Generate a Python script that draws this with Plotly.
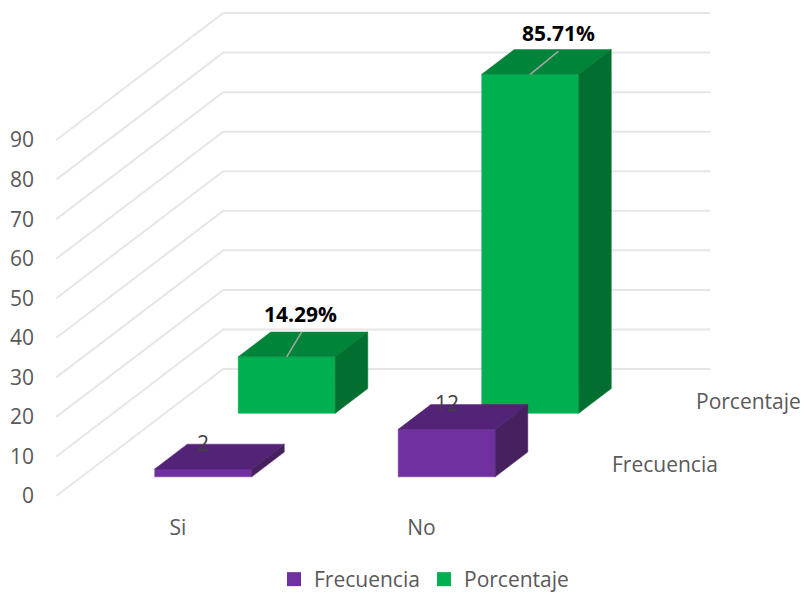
import plotly.graph_objects as go

categories = ["Si", "No"]
frecuencia = [2, 12]
porcentaje = [14.29, 85.71]
frecuencia_labels = ["2", "12"]
porcentaje_labels = ["14.29%", "85.71%"]
value_ticks = [0, 10, 20, 30, 40, 50, 60, 70, 80, 90]

FONT = "Open Sans"
GREY = "#595959"
FS = 21
PX_PER_CAT = 243.5
PX_PER_VAL = 3.955
DEPTH_X = 167 / PX_PER_CAT   # oblique projection of the depth axis, in axis units
DEPTH_Y = 127 / PX_PER_VAL
HALF_W = 48.5 / PX_PER_CAT
BAR_DEPTH = 0.195
LEFT, BOTTOM = 35, 513
X0, Y0 = 178, 496


def proj(c, v, d):
    return c + d * DEPTH_X, v + d * DEPTH_Y


def poly(points, color):
    xs, ys = zip(*[proj(*p) for p in points])
    return go.Scatter(x=list(xs) + [xs[0]], y=list(ys) + [ys[0]], mode="lines", fill="toself",
                      fillcolor=color, line=dict(color=color, width=0.5),
                      showlegend=False, hoverinfo="skip")


def bar(c, value, d0, front, top, side):
    l, r, d1 = c - HALF_W, c + HALF_W, d0 + BAR_DEPTH
    return [
        poly([(l, 0, d0), (r, 0, d0), (r, value, d0), (l, value, d0)], front),
        poly([(l, value, d0), (r, value, d0), (r, value, d1), (l, value, d1)], top),
        poly([(r, 0, d0), (r, 0, d1), (r, value, d1), (r, value, d0)], side),
    ]


fig = go.Figure()

# legend entries
fig.add_trace(go.Scatter(x=[None], y=[None], mode="markers", name="Frecuencia",
                         marker=dict(symbol="square", size=14, color="#7030A0")))
fig.add_trace(go.Scatter(x=[None], y=[None], mode="markers", name="Porcentaje",
                         marker=dict(symbol="square", size=14, color="#00B050")))

# floor-to-wall gridlines
gx, gy = [], []
for t in value_ticks:
    for c, d in [(-0.5, 0), (-0.5, 1), (1.5, 1)]:
        x, y = proj(c, t, d)
        gx.append(x)
        gy.append(y)
    gx.append(None)
    gy.append(None)
fig.add_trace(go.Scatter(x=gx, y=gy, mode="lines", line=dict(color="#E6E6E6", width=2),
                         showlegend=False, hoverinfo="skip"))

# bars, back row first
for i, v in enumerate(porcentaje):
    for t in bar(i, v, 0.651, "#00B050", "#00843A", "#006F2F"):
        fig.add_trace(t)
for i, v in enumerate(frecuencia):
    for t in bar(i, v, 0.151, "#7030A0", "#532378", "#47205F"):
        fig.add_trace(t)

annotations = []

# percentage labels with leader lines (label and leader offsets in pixels)
label_off = [(14, 43), (28, 41)]
leader_off = [(15, 25), (28, 23)]
for i, v in enumerate(porcentaje):
    x, y = proj(i, v, 0.651)
    lx, ly = leader_off[i]
    fig.add_trace(go.Scatter(x=[x, x + lx / PX_PER_CAT], y=[y, y + ly / PX_PER_VAL], mode="lines",
                             line=dict(color="#A6A6A6", width=1.5), showlegend=False, hoverinfo="skip"))
    annotations.append(dict(x=x, y=y, text=porcentaje_labels[i], showarrow=False,
                            xshift=label_off[i][0], yshift=label_off[i][1],
                            font=dict(family=FONT, size=FS, color="#000000", weight="bold")))

# frequency labels
for i, v in enumerate(frecuencia):
    x, y = proj(i, v, 0.151)
    annotations.append(dict(x=x, y=y, text=frecuencia_labels[i], showarrow=False, yshift=26,
                            font=dict(family=FONT, size=FS, color="#404040")))

# depth-axis labels
for name, d in [("Frecuencia", 0.25), ("Porcentaje", 0.75)]:
    x, y = proj(1.83, 0, d)
    annotations.append(dict(x=x, y=y, text=name, showarrow=False, yshift=0,
                            font=dict(family=FONT, size=FS, color=GREY)))

fig.update_layout(
    width=802, height=593,
    autosize=False,
    margin=dict(l=LEFT, r=0, t=0, b=593 - BOTTOM, autoexpand=False),
    paper_bgcolor="white", plot_bgcolor="white",
    font=dict(family=FONT, size=FS, color=GREY),
    xaxis=dict(range=[(LEFT - X0) / PX_PER_CAT, (802 - X0) / PX_PER_CAT], tickvals=[0, 1],
               ticktext=categories, showgrid=False, zeroline=False, showline=False, ticks="",
               tickfont=dict(family=FONT, size=FS, color=GREY), fixedrange=True),
    yaxis=dict(range=[(Y0 - BOTTOM) / PX_PER_VAL, Y0 / PX_PER_VAL], tickvals=value_ticks,
               showgrid=False, zeroline=False, showline=False, ticks="",
               tickfont=dict(family=FONT, size=FS, color=GREY), fixedrange=True),
    legend=dict(orientation="h", xref="paper", yref="paper", x=(274 - LEFT) / (802 - LEFT), xanchor="left",
                y=-(559 - BOTTOM) / BOTTOM, yanchor="top", entrywidth=105, entrywidthmode="pixels",
                font=dict(family=FONT, size=FS, color=GREY), bgcolor="rgba(0,0,0,0)"),
    annotations=annotations,
)

fig.write_html("out.html", config={"displayModeBar": False},
               post_script="document.body.style.margin='0';document.body.style.overflow='hidden';")
